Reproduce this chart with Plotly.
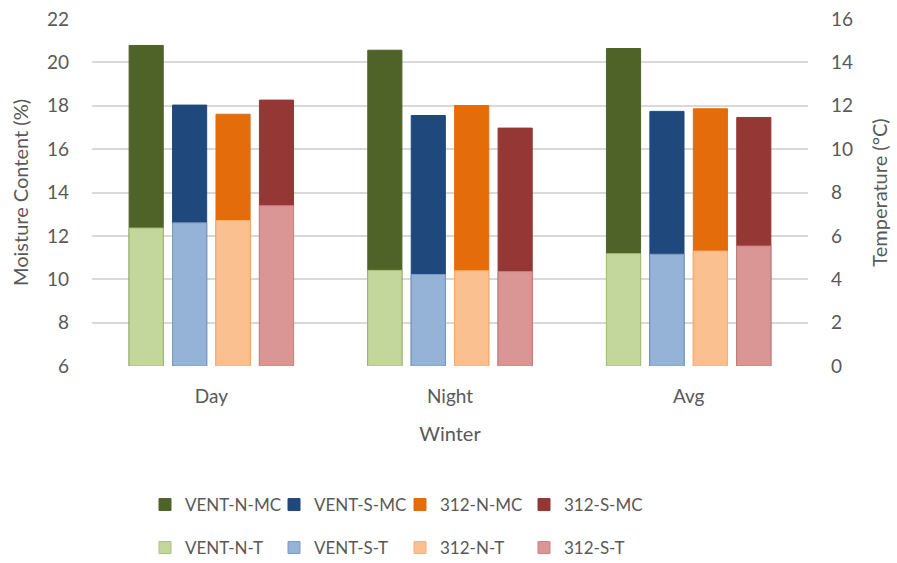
import plotly.graph_objects as go

categories = ["Day", "Night", "Avg"]
mc_names = ["VENT-N-MC", "VENT-S-MC", "312-N-MC", "312-S-MC"]
t_names = ["VENT-N-T", "VENT-S-T", "312-N-T", "312-S-T"]

vent_n_mc = [20.78, 20.56, 20.64]
vent_s_mc = [18.03, 17.55, 17.74]
n312_mc = [17.61, 18.01, 17.86]
s312_mc = [18.26, 16.97, 17.46]

vent_n_t = [6.36, 4.41, 5.18]
vent_s_t = [6.60, 4.22, 5.15]
n312_t = [6.71, 4.39, 5.30]
s312_t = [7.39, 4.35, 5.53]

mc_values = [vent_n_mc, vent_s_mc, n312_mc, s312_mc]
t_values = [vent_n_t, vent_s_t, n312_t, s312_t]

mc_colors = ["#4F6228", "#1F497D", "#E46C0A", "#953735"]
t_colors = ["#C3D69B", "#95B3D7", "#FAC090", "#D99694"]
t_lines = ["#A9C27A", "#7C9CC4", "#F5B07A", "#C98584"]

FONT = "Lato, 'Open Sans', sans-serif"
GRAY = "#595959"

width = 0.143
step = 0.182
offsets = [(-1.5 + i) * step - width / 2 for i in range(4)]

legend_cols_px = [145, 274, 400, 524]
legend_rows_px = [505, 548]

fig = go.Figure()
for i in range(4):
    fig.add_trace(go.Bar(
        x=categories, y=mc_values[i], name=mc_names[i],
        marker=dict(color=mc_colors[i], line=dict(color=mc_colors[i], width=1)),
        width=width, offset=offsets[i], yaxis="y",
        legend="legend" if i == 0 else f"legend{i + 1}",
    ))
for i in range(4):
    fig.add_trace(go.Bar(
        x=categories, y=t_values[i], name=t_names[i],
        marker=dict(color=t_colors[i], line=dict(color=t_lines[i], width=1)),
        width=width, offset=offsets[i], yaxis="y2",
        legend=f"legend{i + 5}",
    ))

legends = {}
for r in range(2):
    for c in range(4):
        k = r * 4 + c
        key = "legend" if k == 0 else f"legend{k + 1}"
        legends[key] = dict(
            orientation="h", xref="container", yref="container",
            xanchor="left", yanchor="middle",
            x=legend_cols_px[c] / 897, y=1 - legend_rows_px[r] / 563,
            itemwidth=30,
            font=dict(family=FONT, size=17, color=GRAY),
            bgcolor="rgba(0,0,0,0)",
        )

fig.update_layout(
    width=897, height=563,
    margin=dict(l=92, r=89, t=19, b=197, autoexpand=False),
    paper_bgcolor="white", plot_bgcolor="white",
    barmode="overlay",
    font=dict(family=FONT, size=19, color=GRAY),
    showlegend=True,
    xaxis=dict(
        title=dict(text="Winter", font=dict(size=20, color=GRAY), standoff=20),
        tickfont=dict(size=19, color=GRAY), ticklabelstandoff=17,
        showgrid=False, showline=False, ticks="", automargin=False,
    ),
    yaxis=dict(
        title=dict(text="Moisture Content (%)", font=dict(size=20, color=GRAY), standoff=12),
        range=[6, 22], dtick=2, tick0=6,
        showgrid=True, gridcolor="#D9D9D9", gridwidth=1.5,
        zeroline=False, showline=False, ticks="", automargin=False,
        tickfont=dict(size=19, color=GRAY), ticklabelstandoff=22,
    ),
    yaxis2=dict(
        title=dict(text="Temperature (°C)", font=dict(size=20, color=GRAY), standoff=20),
        range=[0, 16], dtick=2, tick0=0,
        overlaying="y", side="right",
        showgrid=False, zeroline=False, showline=False, ticks="", automargin=False,
        tickfont=dict(size=19, color=GRAY), ticklabelstandoff=22,
    ),
    **legends,
)

fig.write_html(
    "out.html",
    config={"displayModeBar": False},
    post_script="document.body.style.margin='0';document.body.style.overflow='hidden';",
)
